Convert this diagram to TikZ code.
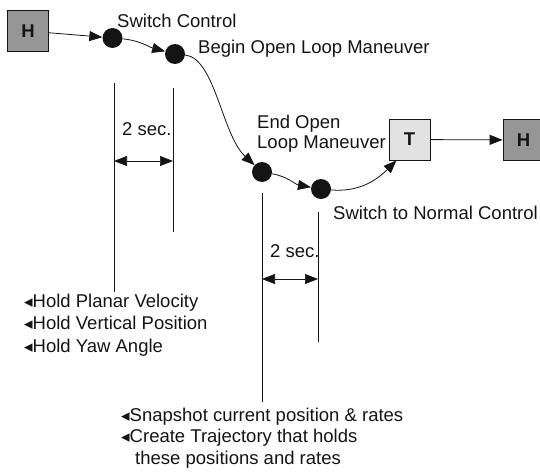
\documentclass[tikz,border=0pt]{standalone}
\usepackage{fontspec}
\setmainfont{Liberation Sans}
\newfontfamily\symfont{DejaVu Sans}
\usetikzlibrary{
    arrows.meta,
    positioning
}
\definecolor{ink}{RGB}{20,20,20}
\definecolor{holdfill}{RGB}{150,150,150}
\definecolor{trajfill}{RGB}{226,226,226}
\newcommand{\bul}{{\symfont\fontsize{17}{17}\selectfont\kern-1pt◂}}
\tikzset{
    modebox/.style={
        rectangle,
        draw=ink,
        line width=0.8pt,
        minimum size=41pt,
        inner sep=0pt,
        font=\fontsize{18.5}{20}\selectfont\bfseries,
        text=ink
    },
    holdmode/.style={modebox, fill=holdfill},
    trajmode/.style={modebox, fill=trajfill},
    event/.style={
        circle,
        fill=ink,
        minimum size=20pt,
        inner sep=0pt
    },
    flow/.style={
        -{Triangle[length=13pt, width=10pt]},
        draw=ink,
        line width=0.8pt
    },
    dimline/.style={
        draw=ink,
        line width=0.7pt
    },
    dimarrow/.style={
        {Triangle[length=13pt, width=10pt]}-{Triangle[length=13pt, width=10pt]},
        draw=ink,
        line width=0.7pt
    },
    lbl/.style={
        font=\fontsize{18.5}{20}\selectfont,
        text=ink,
        inner sep=0pt,
        anchor=base west,
        align=left
    }
}

\begin{document}
\begin{tikzpicture}[x=1pt, y=-1pt]

\useasboundingbox (0,0) rectangle (540,471);

% === Mode boxes and events ===
\node[holdmode] (hin) at (28,31) {H};
\node[event] (swc) at (112.5,38) {};
\node[event] (bol) at (175,54) {};
\node[event] (eol) at (262,172) {};
\node[event] (snc) at (321,189) {};
\node[trajmode] (traj) at (409.5,139.5) {T};
\node[holdmode] (hout) at (523.5,140) {H};

% Event labels (base = last line)
\node[lbl] (swclbl) at (117,27) {Switch Control};
\node[lbl] (bollbl) at (198,53) {Begin Open Loop Maneuver};
\node[lbl] (eollbl) at (257,148) {End Open\\Loop Maneuver};
\node[lbl] (snclbl) at (333,219) {Switch to Normal Control};

% Timeline
\draw[flow] (hin) -- (swc);
\draw[flow] (swc) to[out=-5, in=165] (bol);
\draw[flow] (bol) .. controls (215,58) and (222,135) .. (eol);
\draw[flow] (eol) to[out=-10, in=170] (snc);
\draw[flow] (snc) to[out=-5, in=-135] (traj.-122);
\draw[flow] (traj) -- (hout);

% === Timing marks ===
\coordinate (l1t) at (114,83);
\coordinate (l1m) at (114,161);
\coordinate (l1b) at (114,292);
\coordinate (l2t) at (173,88);
\coordinate (l2m) at (173,161);
\coordinate (l2b) at (173,232);
\draw[dimline] (l1t) -- (l1b);
\draw[dimline] (l2t) -- (l2b);
\draw[dimarrow] (l1m) -- (l2m);
\node[lbl] (lsec) at (122,135) {2 sec.};

\coordinate (r1t) at (262,193);
\coordinate (r1m) at (262,279);
\coordinate (r1b) at (262,402);
\coordinate (r2t) at (318,212);
\coordinate (r2m) at (318,279);
\coordinate (r2b) at (318,342);
\draw[dimline] (r1t) -- (r1b);
\draw[dimline] (r2t) -- (r2b);
\draw[dimarrow] (r1m) -- (r2m);
\node[lbl] (rsec) at (270,257) {2 sec.};

% === Notes ===
\node[lbl, font=\fontsize{18.5}{22.5}\selectfont] (holdnotes) at (25,352)
    {\bul Hold Planar Velocity\\\bul Hold Vertical Position\\\bul Hold Yaw Angle};
\node[lbl, font=\fontsize{18.5}{21.5}\selectfont] (snapnotes) at (122,464)
    {\bul Snapshot current position \& rates\\\bul Create Trajectory that holds\\\hspace*{13pt}these positions and rates};

\end{tikzpicture}
\end{document}
